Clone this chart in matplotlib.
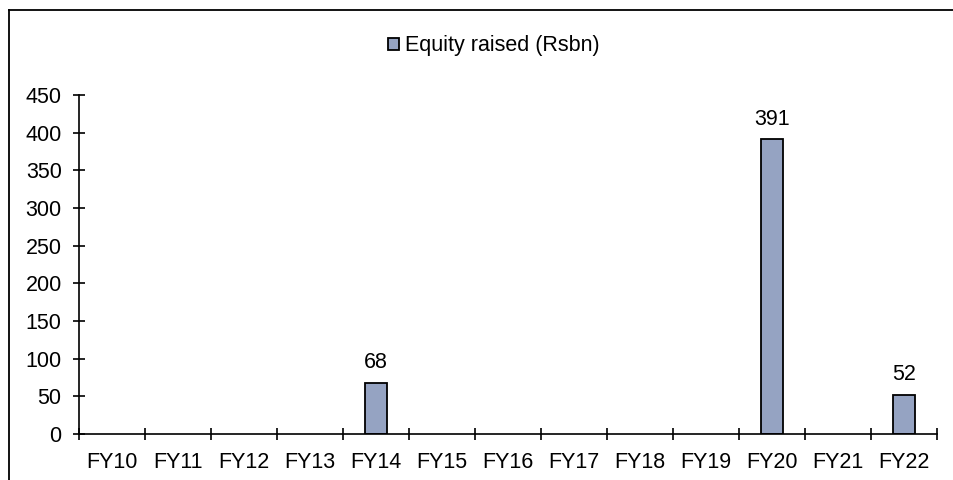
import matplotlib.pyplot as plt
import numpy as np
from matplotlib.lines import Line2D

plt.rcParams['font.family'] = ['Liberation Sans', 'DejaVu Sans']

years = ['FY10', 'FY11', 'FY12', 'FY13', 'FY14', 'FY15', 'FY16',
         'FY17', 'FY18', 'FY19', 'FY20', 'FY21', 'FY22']
equity = [0, 0, 0, 0, 68, 0, 0, 0, 0, 0, 391, 0, 52]
bar_color = '#95A3C2'
fs = 15.5

fig = plt.figure(figsize=(9.54, 4.8), dpi=100)
ax = fig.add_axes([79 / 954, (480 - 434) / 480, (937 - 79) / 954, (434 - 95) / 480])

x = np.arange(len(years))
# zero years get no outline so nothing shows on the axis
edge_w = [1.3 if v > 0 else 0 for v in equity]
bars = ax.bar(x, equity, width=0.32, color=bar_color, edgecolor='black',
              linewidth=edge_w, label='Equity raised (Rsbn)')

for xi, v in zip(x, equity):
    if v > 0:
        ax.annotate(str(v), (xi, v), xytext=(0, 7), textcoords='offset points',
                    ha='center', va='bottom', fontsize=fs)

ax.set_xlim(-0.5, len(years) - 0.5)
ax.set_ylim(0, 450)
ax.set_yticks(np.arange(0, 451, 50))

# ticks sit on category boundaries, names go in between
ax.set_xticks(np.arange(-0.5, len(years), 1.0))
ax.set_xticklabels([])
ax.set_xticks(x, minor=True)
ax.set_xticklabels(years, minor=True)
ax.tick_params(axis='x', which='major', direction='inout', length=8, width=1.2)
ax.tick_params(axis='x', which='minor', length=0, pad=13, labelsize=fs)
ax.tick_params(axis='y', direction='inout', length=8, width=1.2, pad=8.5, labelsize=fs)

for s in ['top', 'right']:
    ax.spines[s].set_visible(False)
for s in ['left', 'bottom']:
    ax.spines[s].set_linewidth(1.2)

leg = fig.legend(handles=[bars], loc='center', bbox_to_anchor=(0.518, 1 - 46 / 480),
                 frameon=False, fontsize=fs, handlelength=0.5, handleheight=0.5,
                 handletextpad=0.3)
leg.legend_handles[0].set_linewidth(1.3)

# frame on the left and top edge of the figure
fig.add_artist(Line2D([9 / 954, 9 / 954], [0, 1 - 10 / 480], color='black',
                      linewidth=1.3, transform=fig.transFigure))
fig.add_artist(Line2D([9 / 954, 1], [1 - 10 / 480, 1 - 10 / 480], color='black',
                      linewidth=1.3, transform=fig.transFigure))

fig.savefig('out.png', dpi=100)
